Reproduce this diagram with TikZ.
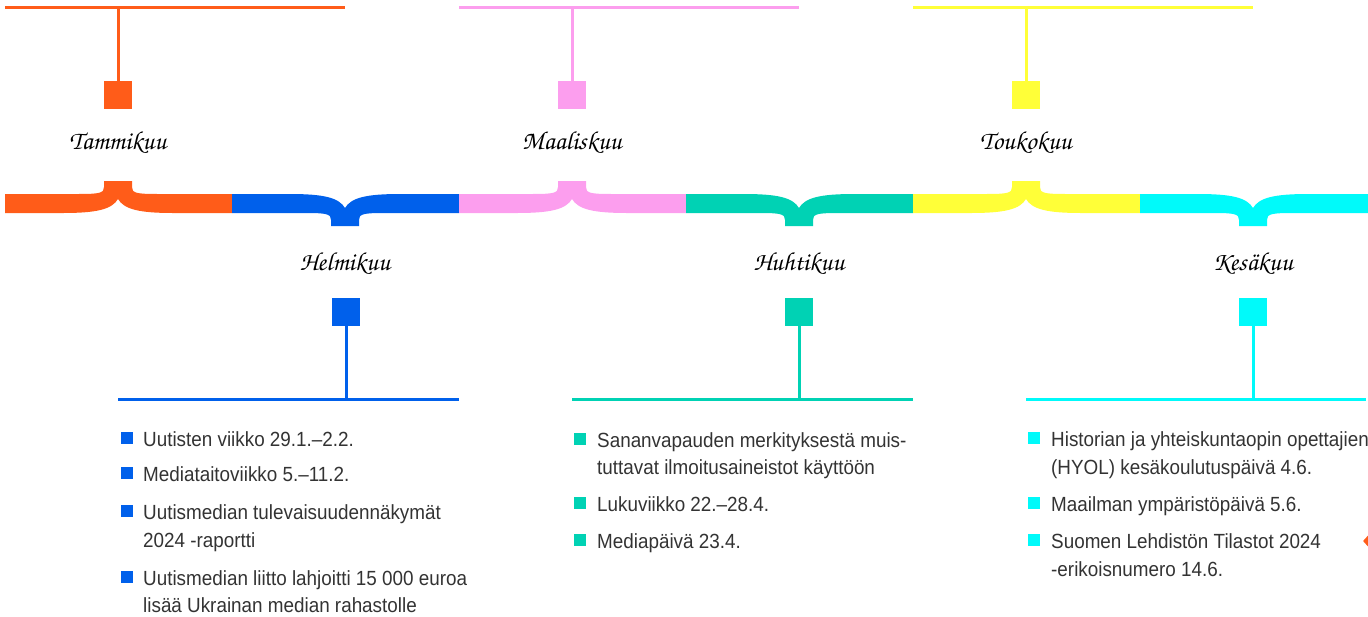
\documentclass[tikz,border=0pt]{standalone}
\usepackage[T1,TU]{fontenc}
\usepackage{fontspec}
\setmainfont{Liberation Sans}[FakeStretch=0.92]
\usetikzlibrary{shapes.geometric}
\definecolor{cOr}{RGB}{255,92,25}
\definecolor{cBl}{RGB}{0,96,235}
\definecolor{cPk}{RGB}{252,158,238}
\definecolor{cTl}{RGB}{0,210,180}
\definecolor{cYl}{RGB}{255,255,56}
\definecolor{cCy}{RGB}{0,250,250}
\definecolor{txtc}{RGB}{51,51,51}
\newcommand\handfont{\usefont{T1}{pzc}{mb}{it}\fontsize{26}{30}\selectfont}
% upward brace: colour, left x, centre x, right x
\newcommand\BraceUp[4]{%
 \fill[#1] (#2,194) -- ({#3-40},194) .. controls ({#3-18},194) and ({#3-14},193) .. ({#3-14},187)
  -- ({#3-14},181) -- ({#3+14},181) -- ({#3+14},187)
  .. controls ({#3+14},193) and ({#3+18},194) .. ({#3+40},194) -- (#4,194) -- (#4,213)
  -- ({#3+55},213) .. controls ({#3+20},213) and ({#3+6},209) .. (#3,199)
  .. controls ({#3-6},209) and ({#3-20},213) .. ({#3-55},213) -- (#2,213) -- cycle;}
% downward brace
\newcommand\BraceDown[4]{%
 \fill[#1] (#2,213) -- ({#3-40},213) .. controls ({#3-18},213) and ({#3-14},214) .. ({#3-14},220)
  -- ({#3-14},226) -- ({#3+14},226) -- ({#3+14},220)
  .. controls ({#3+14},214) and ({#3+18},213) .. ({#3+40},213) -- (#4,213) -- (#4,194)
  -- ({#3+55},194) .. controls ({#3+20},194) and ({#3+6},198) .. (#3,208)
  .. controls ({#3-6},198) and ({#3-20},194) .. ({#3-55},194) -- (#2,194) -- cycle;}
\begin{document}
\begin{tikzpicture}[x=1pt,y=-1pt,
  sq/.style={minimum size=28pt,inner sep=0,draw=none},
  bsq/.style={minimum size=12pt,inner sep=0,draw=none},
  rule/.style={line width=3pt},
  hand/.style={font=\handfont,text=black,inner sep=0,anchor=base},
  txt/.style={font=\fontsize{20.5}{27}\selectfont,text=txtc,inner sep=0,anchor=base west}]
\useasboundingbox (0,0) rectangle (1368,616);
\clip (0,0) rectangle (1368,616);
% band of braces
\BraceUp{cOr}{5}{118}{232}
\BraceDown{cBl}{232}{345}{459}
\BraceUp{cPk}{459}{572}{686}
\BraceDown{cTl}{686}{799}{913}
\BraceUp{cYl}{913}{1026}{1140}
\BraceDown{cCy}{1140}{1253}{1368}
% top months
\coordinate (tJan) at (118,7);
\coordinate (tMar) at (572,7);
\coordinate (tMay) at (1026,7);
\draw[rule,cOr] (5,7) -- (345,7);
\draw[rule,cPk] (459,7) -- (799,7);
\draw[rule,cYl] (913,7) -- (1253,7);
\node[sq,fill=cOr] (sJan) at (118,95) {};
\node[sq,fill=cPk] (sMar) at (572,95) {};
\node[sq,fill=cYl] (sMay) at (1026,95) {};
\draw[rule,cOr] (tJan) -- (sJan.north);
\draw[rule,cPk] (tMar) -- (sMar.north);
\draw[rule,cYl] (tMay) -- (sMay.north);
\node[hand] (lJan) at (118,149) {Tammikuu};
\node[hand] (lMar) at (572,149) {Maaliskuu};
\node[hand] (lMay) at (1026,149) {Toukokuu};
% bottom months
\node[hand] (lFeb) at (345,270) {Helmikuu};
\node[hand] (lApr) at (799,270) {Huhtikuu};
\node[hand] (lJun) at (1253,270) {Kesäkuu};
\node[sq,fill=cBl] (sFeb) at (346,312) {};
\node[sq,fill=cTl] (sApr) at (799,312) {};
\node[sq,fill=cCy] (sJun) at (1253,312) {};
\coordinate (bFeb) at (346,399);
\coordinate (bApr) at (799,399);
\coordinate (bJun) at (1253,399);
\draw[rule,cBl] (sFeb.south) -- (bFeb);
\draw[rule,cTl] (sApr.south) -- (bApr);
\draw[rule,cCy] (sJun.south) -- (bJun);
\draw[rule,cBl] (118,399) -- (459,399);
\draw[rule,cTl] (572,399) -- (913,399);
\draw[rule,cCy] (1026,399) -- (1366,399);
% February items
\node[bsq,fill=cBl] (fb1) at (127,438) {};
\node[txt] (ft1) at (143,446) {Uutisten viikko 29.1.–2.2.};
\node[bsq,fill=cBl] (fb2) at (127,473) {};
\node[txt] (ft2) at (143,481) {Mediataitoviikko 5.–11.2.};
\node[bsq,fill=cBl] (fb3) at (127,511) {};
\node[txt] (ft3) at (143,519) {Uutismedian tulevaisuudennäkymät};
\node[txt] (ft3b) at (143,547) {2024 -raportti};
\node[bsq,fill=cBl] (fb4) at (127,577) {};
\node[txt] (ft4) at (143,585) {Uutismedian liitto lahjoitti 15 000 euroa};
\node[txt] (ft4b) at (143,612) {lisää Ukrainan median rahastolle};
% April items
\node[bsq,fill=cTl] (ab1) at (580,439) {};
\node[txt] (at1) at (597,447) {Sananvapauden merkityksestä muis-};
\node[txt] (at1b) at (597,474) {tuttavat ilmoitusaineistot käyttöön};
\node[bsq,fill=cTl] (ab2) at (580,503) {};
\node[txt] (at2) at (597,511) {Lukuviikko 22.–28.4.};
\node[bsq,fill=cTl] (ab3) at (580,540) {};
\node[txt] (at3) at (597,548) {Mediapäivä 23.4.};
% June items
\node[bsq,fill=cCy] (jb1) at (1034,438) {};
\node[txt] (jt1) at (1051,446) {Historian ja yhteiskuntaopin opettajien};
\node[txt] (jt1b) at (1051,474) {(HYOL) kesäkoulutuspäivä 4.6.};
\node[bsq,fill=cCy] (jb2) at (1034,503) {};
\node[txt] (jt2) at (1051,511) {Maailman ympäristöpäivä 5.6.};
\node[bsq,fill=cCy] (jb3) at (1034,540) {};
\node[txt] (jt3) at (1051,548) {Suomen Lehdistön Tilastot 2024};
\node[txt] (jt3b) at (1051,576) {-erikoisnumero 14.6.};
% partly visible marker at the right edge
\node[diamond,fill=cOr,inner sep=0,minimum width=18pt,minimum height=20pt] (dm) at (1372,541) {};
\end{tikzpicture}
\end{document}
